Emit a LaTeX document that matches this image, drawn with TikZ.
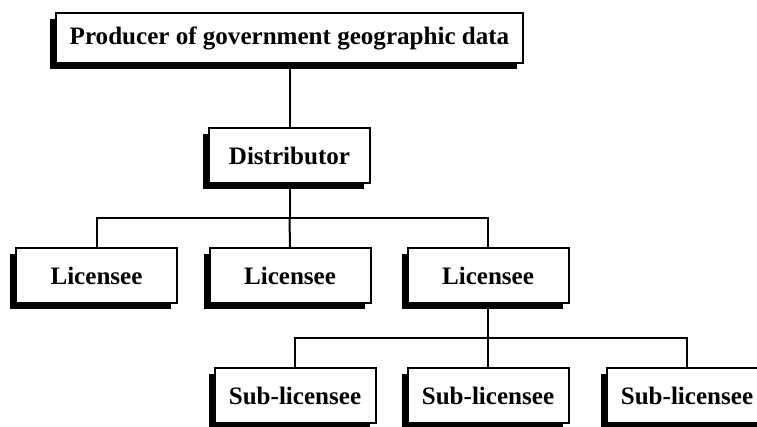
\documentclass[tikz,border=0pt]{standalone}
\usepackage{fontspec}
\setmainfont{Liberation Serif}
\usetikzlibrary{shadows}
\usetikzlibrary{positioning}
\tikzset{party/.style={draw,line width=1.5pt,fill=white,inner sep=0pt,
                       minimum width=120.75pt,minimum height=41.25pt,
                       font=\fontsize{18.8}{22}\selectfont\bfseries,
                       general shadow={fill=black,shadow xshift=-4.5pt,shadow yshift=-4.5pt}},
         producer/.style={party,minimum width=350.25pt,minimum height=37.5pt},
         link/.style={line width=1.5pt},
         }

\begin{document}
\begin{tikzpicture}[x=0.75pt,y=-0.75pt]
\useasboundingbox (0,0) rectangle (757,426);
\clip (0,0) rectangle (757,426);
% boxes
\node[producer] (prod) at (289.5,38) {Producer of government geographic data};
\node[party] (dist) at (289.5,155.5) {Distributor};
\node[party] (lic1) at (96.5,275.5) {Licensee};
\node[party] (lic2) at (290,275.5) {Licensee};
\node[party] (lic3) at (488,275.5) {Licensee};
\node[party] (sub1) at (295,395.5) {Sub-licensee};
\node[party] (sub2) at (488,395.5) {Sub-licensee};
\node[party] (sub3) at (687,395.5) {Sub-licensee};
% connectors
\coordinate (distbus) at (289.5,218);
\coordinate (subbus) at (488,338);
\draw[link] (prod.south) -- (dist.north);
\draw[link] (dist.south) -- (distbus);
\draw[link] (distbus) -| (lic1.north);
\draw[link] (distbus) -- (lic2.north);
\draw[link] (distbus) -| (lic3.north);
\draw[link] (lic3.south) -- (subbus);
\draw[link] (subbus) -| (sub1.north);
\draw[link] (subbus) -- (sub2.north);
\draw[link] (subbus) -| (sub3.north);
\end{tikzpicture}
\end{document}
